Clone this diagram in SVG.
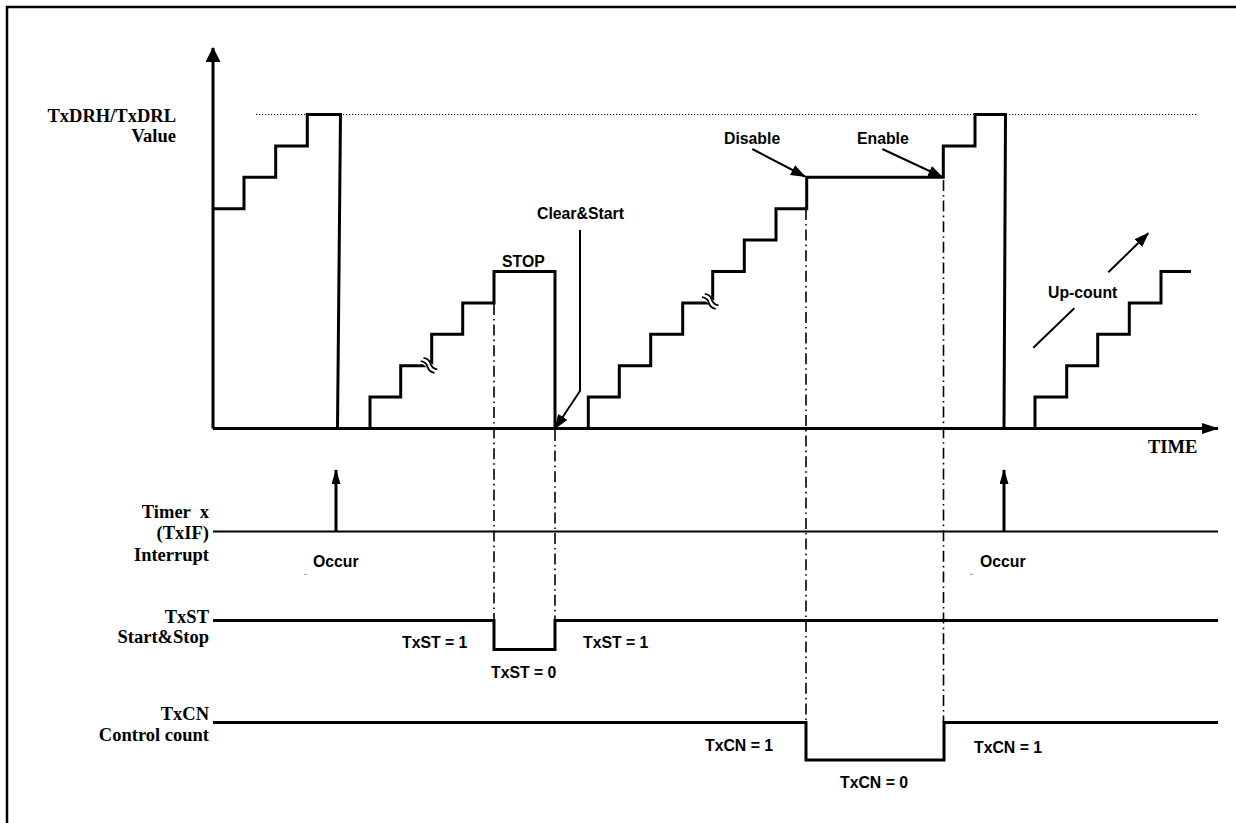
<svg xmlns="http://www.w3.org/2000/svg" xmlns:xlink="http://www.w3.org/1999/xlink" width="1236" height="823" viewBox="0 0 1236 823">
<style>
.ln{fill:none;stroke:#000;stroke-width:3;stroke-linejoin:miter;stroke-linecap:butt}
.thin{fill:none;stroke:#000;stroke-width:2}
.dd{fill:none;stroke:#000;stroke-width:1.6;stroke-dasharray:11 4 1.6 4}
.dot{fill:none;stroke:#000;stroke-width:1.2;stroke-dasharray:1.2 1.8}
.serif{font-family:"Liberation Serif","Times New Roman",serif;font-weight:bold;font-size:18.5px;fill:#000}
.sans{font-family:"Liberation Sans",Arial,sans-serif;font-weight:bold;font-size:15.8px;fill:#000}
.end{text-anchor:end}
</style>
<defs>
<marker id="mY" markerUnits="userSpaceOnUse" markerWidth="16" markerHeight="16" refX="14" refY="7.5" orient="auto"><path d="M0,0 L15,7.5 L0,15 z" fill="#000"/></marker>
<marker id="mX" markerUnits="userSpaceOnUse" markerWidth="18" markerHeight="12" refX="16" refY="5.5" orient="auto"><path d="M0,0 L17,5.5 L0,11 z" fill="#000"/></marker>
<marker id="mI" markerUnits="userSpaceOnUse" markerWidth="16" markerHeight="10" refX="14" refY="4.5" orient="auto"><path d="M0,0 L15,4.5 L0,9 z" fill="#000"/></marker>
<marker id="mC" markerUnits="userSpaceOnUse" markerWidth="16" markerHeight="12" refX="14" refY="5.5" orient="auto"><path d="M0,0 L15,5.5 L0,11 z" fill="#000"/></marker>
<g id="brk">
<rect x="-9" y="-3" width="18" height="6" fill="#fff"/>
<path d="M-9,-2.2 q4.5,-3 9,0 t9,0" fill="none" stroke="#000" stroke-width="1.8"/>
<path d="M-9,2.2 q4.5,-3 9,0 t9,0" fill="none" stroke="#000" stroke-width="1.8"/>
</g>
</defs>
<path d="M7,823 V7 H1236" fill="none" stroke="#000" stroke-width="2.5"/>

<g id="axes">
<line class="ln" x1="213" y1="428.5" x2="213" y2="48" marker-end="url(#mY)"/>
<line class="ln" x1="213" y1="428.5" x2="1218" y2="428.5" marker-end="url(#mX)"/>
<line class="dot" x1="256" y1="114.5" x2="1197" y2="114.5"/>
</g>

<g id="counter-waveform">
<path class="ln" d="M213,208.7 H244 V177.3 H275.7 V145.9 H307.3 V114.5 H340.5 L337.5,428.5 H370 V397.1 H400.7 V365.7 H431.7 V334.3 H462.7 V302.9 H494 V271.5 H555 V428.5 H588.3 V397.1 H619.3 V365.7 H650.7 V334.3 H682.7 V302.9 H712.7 V271.5 H744.3 V240.1 H776 V208.7 H806.7 V177.3 H943.3 V145.9 H975 V114.5 H1005.5 L1004,428.5 H1035 V397.1 H1066.7 V365.7 H1097.7 V334.3 H1129.3 V302.9 H1161 V271.5 H1191"/>
<use xlink:href="#brk" transform="translate(429,365.3) rotate(40)"/>
<use xlink:href="#brk" transform="translate(710.3,301.3) rotate(40)"/>
</g>

<g id="interrupt-signal">
<line class="thin" x1="213" y1="531.5" x2="1218" y2="531.5"/>
</g>
<g id="txst-signal">
<path class="ln" d="M213,620.5 H494 V649.5 H555 V620.5 H1218"/>
</g>
<g id="txcn-signal">
<path class="ln" d="M213,722.5 H806 V760 H944 V722.5 H1218"/>
</g>

<g id="connectors">
<line class="dd" x1="494" y1="304" x2="494" y2="620.5"/>
<line class="dd" x1="555" y1="430" x2="555" y2="620.5"/>
<line class="dd" x1="806" y1="209" x2="806" y2="722.5"/>
<line class="dd" x1="943.5" y1="180" x2="943.5" y2="722.5"/>
<line class="ln" x1="336" y1="531.5" x2="336" y2="470" marker-end="url(#mI)"/>
<line class="ln" x1="1004" y1="531.5" x2="1004" y2="470" marker-end="url(#mI)"/>
<polyline class="thin" points="580,230 580,391 555,428.5" marker-end="url(#mC)"/>
<line class="thin" x1="752.3" y1="149" x2="805" y2="176.5" marker-end="url(#mC)"/>
<line class="thin" x1="882.3" y1="149" x2="942.3" y2="177" marker-end="url(#mC)"/>
<line class="thin" x1="1033.3" y1="347.7" x2="1074.3" y2="308.3"/>
<line class="thin" x1="1108.3" y1="272.3" x2="1148.3" y2="233.3" marker-end="url(#mC)"/>
<line x1="304" y1="574.3" x2="307" y2="574.3" stroke="#999" stroke-width="1"/>
<line x1="970" y1="574.3" x2="973" y2="574.3" stroke="#999" stroke-width="1"/>
</g>

<g id="labels">
<text class="serif end" x="176" y="121.5">TxDRH/TxDRL</text>
<text class="serif end" x="176" y="141.5">Value</text>
<text class="serif" x="1148" y="453">TIME</text>
<text class="serif end" x="209" y="518" style="white-space:pre" xml:space="preserve">Timer  x</text>
<text class="serif end" x="209" y="539">(TxIF)</text>
<text class="serif end" x="209" y="561">Interrupt</text>
<text class="serif end" x="209" y="623">TxST</text>
<text class="serif end" x="209" y="643">Start&amp;Stop</text>
<text class="serif end" x="209" y="720">TxCN</text>
<text class="serif end" x="209" y="741">Control count</text>
<text class="sans" x="502" y="267">STOP</text>
<text class="sans" x="537" y="219">Clear&amp;Start</text>
<text class="sans" x="724" y="144">Disable</text>
<text class="sans" x="857" y="144">Enable</text>
<text class="sans" x="1048" y="298">Up-count</text>
<text class="sans" x="313" y="567">Occur</text>
<text class="sans" x="980" y="567">Occur</text>
<text class="sans" x="402" y="648">TxST = 1</text>
<text class="sans" x="583" y="648">TxST = 1</text>
<text class="sans" x="491" y="678">TxST = 0</text>
<text class="sans" x="705" y="751">TxCN = 1</text>
<text class="sans" x="840" y="788">TxCN = 0</text>
<text class="sans" x="974" y="753">TxCN = 1</text>
</g>
</svg>
